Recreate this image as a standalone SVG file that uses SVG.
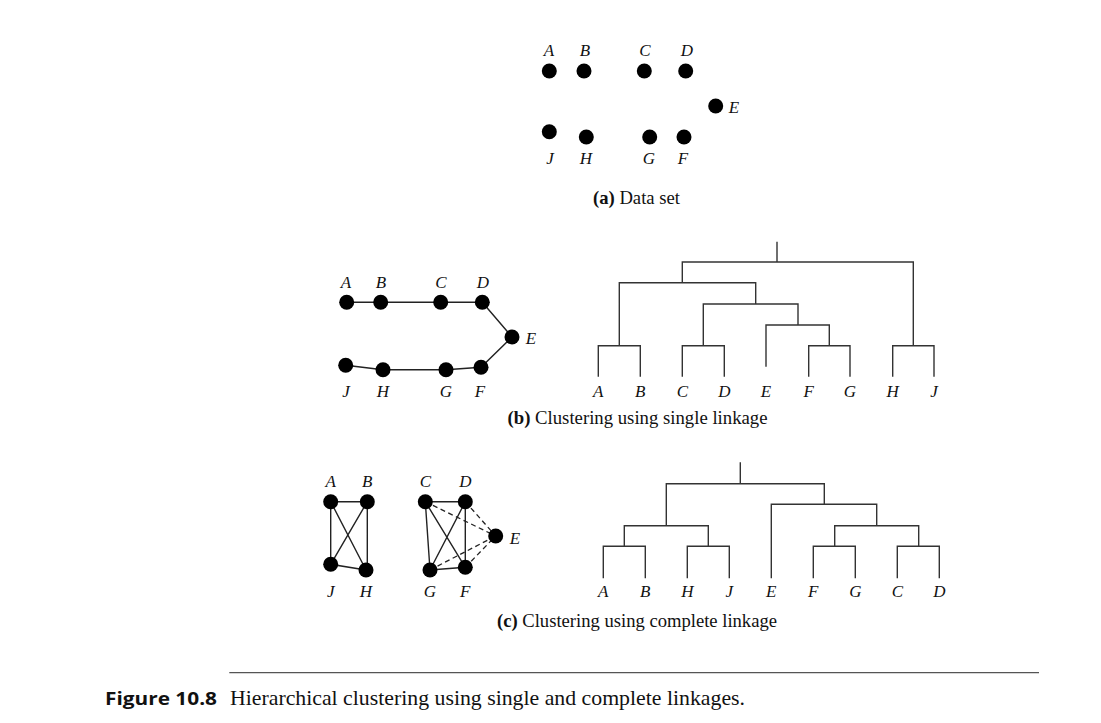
<svg xmlns="http://www.w3.org/2000/svg" width="1101" height="723" viewBox="0 0 1101 723">
<style>
.bg{fill:#ffffff}
.dot{fill:#000000}
.lbl{font-family:"Liberation Serif","Times New Roman",serif;font-style:italic;font-size:17px;fill:#111;text-anchor:middle}
.cap{font-family:"Liberation Serif","Times New Roman",serif;font-size:19px;fill:#111}
.b{font-weight:bold}
.edge{stroke:#222;stroke-width:1.4;fill:none}
.dash{stroke:#222;stroke-width:1.3;fill:none;stroke-dasharray:5,3.5}
.tree{stroke:#333;stroke-width:1.4;fill:none}
.fig{font-family:"Liberation Serif","Times New Roman",serif;font-size:21px;fill:#111}
.figb{font-family:"Open Sans","DejaVu Sans",sans-serif;font-weight:bold;font-size:18px;fill:#111}
</style>
<rect class="bg" x="0" y="0" width="1101" height="723"/>

<g id="connectors">
  <!-- (b) single linkage edges -->
  <path class="edge" d="M346.7,302.3 H482.3 L512,337 L481,367.3 L446,369.7 H383 L345.7,365.3"/>
  <!-- (c) complete linkage edges -->
  <path class="edge" d="M330.7,501.7 H367.3 V570 M330.7,501.7 V564.3 L366,570 M330.7,501.7 L366,570 M367.3,501.7 L330.7,564.3"/>
  <path class="edge" d="M425.3,501.7 H465.3 V567.3 L430,570 L425.3,501.7 L465.3,567.3 M465.3,501.7 L430,570"/>
  <path class="dash" d="M425.3,501.7 L495.7,536 M465.3,501.7 L495.7,536 M430,570 L495.7,536 M465.3,567.3 L495.7,536"/>
  <!-- (b) dendrogram -->
  <path class="tree" d="M598.3,376.7 V345.7 H640.3 V376.7 M682.3,376.7 V345.7 H724.3 V376.7 M808.7,376.7 V345.7 H850 V376.7 M892.7,376.7 V345.7 H934 V376.7 M766,366.7 V325 H829.3 V345.7 M703.3,345.7 V304 H798 V325 M619.3,345.7 V282.7 H755.7 V304 M682.3,282.7 V262 H913.3 V345.7 M777,262 V241.7"/>
  <!-- (c) dendrogram -->
  <path class="tree" d="M603.3,578.3 V546.3 H645.3 V578.3 M687.3,578.3 V546.3 H729.3 V578.3 M813.3,578.3 V546.3 H855.3 V578.3 M897.3,578.3 V546.3 H939.3 V578.3 M624.3,546.3 V525.7 H708.3 V546.3 M834.7,546.3 V525.7 H918.7 V546.3 M771.3,578.3 V504.3 H876.7 V525.7 M666.3,525.7 V483.7 H824.3 V504.3 M740.3,483.7 V462.3"/>
</g>

<!-- (a) data set -->
<g id="a-A"><circle class="dot" cx="549.3" cy="71" r="7.5"/><text class="lbl" x="549" y="56">A</text></g>
<g id="a-B"><circle class="dot" cx="584" cy="71" r="7.5"/><text class="lbl" x="585" y="56">B</text></g>
<g id="a-C"><circle class="dot" cx="644.3" cy="71" r="7.5"/><text class="lbl" x="645" y="56">C</text></g>
<g id="a-D"><circle class="dot" cx="685.7" cy="71" r="7.5"/><text class="lbl" x="687" y="56">D</text></g>
<g id="a-E"><circle class="dot" cx="715.7" cy="106" r="7.5"/><text class="lbl" x="734" y="113">E</text></g>
<g id="a-J"><circle class="dot" cx="549.3" cy="131.7" r="7.5"/><text class="lbl" x="550" y="164">J</text></g>
<g id="a-H"><circle class="dot" cx="586.3" cy="137" r="7.5"/><text class="lbl" x="586" y="164">H</text></g>
<g id="a-G"><circle class="dot" cx="649.7" cy="137" r="7.5"/><text class="lbl" x="649" y="164">G</text></g>
<g id="a-F"><circle class="dot" cx="684" cy="137" r="7.5"/><text class="lbl" x="683" y="164">F</text></g>
<text class="cap" x="593" y="204" textLength="87" lengthAdjust="spacingAndGlyphs"><tspan class="b">(a)</tspan> Data set</text>

<!-- (b) single linkage -->
<g id="b-A"><circle class="dot" cx="346.7" cy="302.3" r="7.5"/><text class="lbl" x="346" y="288">A</text></g>
<g id="b-B"><circle class="dot" cx="380.7" cy="302.3" r="7.5"/><text class="lbl" x="381" y="288">B</text></g>
<g id="b-C"><circle class="dot" cx="440.7" cy="302.3" r="7.5"/><text class="lbl" x="441" y="288">C</text></g>
<g id="b-D"><circle class="dot" cx="482.3" cy="302.3" r="7.5"/><text class="lbl" x="483" y="288">D</text></g>
<g id="b-E"><circle class="dot" cx="512" cy="337" r="7.5"/><text class="lbl" x="531" y="344">E</text></g>
<g id="b-J"><circle class="dot" cx="345.7" cy="365.3" r="7.5"/><text class="lbl" x="346" y="397">J</text></g>
<g id="b-H"><circle class="dot" cx="383" cy="369.7" r="7.5"/><text class="lbl" x="383" y="397">H</text></g>
<g id="b-G"><circle class="dot" cx="446" cy="369.7" r="7.5"/><text class="lbl" x="446" y="397">G</text></g>
<g id="b-F"><circle class="dot" cx="481" cy="367.3" r="7.5"/><text class="lbl" x="480" y="397">F</text></g>
<g id="b-dendrogram-labels">
  <text class="lbl" x="598.3" y="397">A</text>
  <text class="lbl" x="640.3" y="397">B</text>
  <text class="lbl" x="682.3" y="397">C</text>
  <text class="lbl" x="724.3" y="397">D</text>
  <text class="lbl" x="766" y="397">E</text>
  <text class="lbl" x="808.7" y="397">F</text>
  <text class="lbl" x="850" y="397">G</text>
  <text class="lbl" x="892.7" y="397">H</text>
  <text class="lbl" x="934" y="397">J</text>
</g>
<text class="cap" x="507.5" y="424" textLength="260" lengthAdjust="spacingAndGlyphs"><tspan class="b">(b)</tspan> Clustering using single linkage</text>

<!-- (c) complete linkage -->
<g id="c-A"><circle class="dot" cx="330.7" cy="501.7" r="7.5"/><text class="lbl" x="330.7" y="487">A</text></g>
<g id="c-B"><circle class="dot" cx="367.3" cy="501.7" r="7.5"/><text class="lbl" x="367.3" y="487">B</text></g>
<g id="c-J"><circle class="dot" cx="330.7" cy="564.3" r="7.5"/><text class="lbl" x="330.7" y="597">J</text></g>
<g id="c-H"><circle class="dot" cx="366" cy="570" r="7.5"/><text class="lbl" x="366" y="597">H</text></g>
<g id="c-C"><circle class="dot" cx="425.3" cy="501.7" r="7.5"/><text class="lbl" x="425.3" y="487">C</text></g>
<g id="c-D"><circle class="dot" cx="465.3" cy="501.7" r="7.5"/><text class="lbl" x="465.3" y="487">D</text></g>
<g id="c-E"><circle class="dot" cx="495.7" cy="536" r="7.5"/><text class="lbl" x="515" y="543.5">E</text></g>
<g id="c-G"><circle class="dot" cx="430" cy="570" r="7.5"/><text class="lbl" x="430" y="597">G</text></g>
<g id="c-F"><circle class="dot" cx="465.3" cy="567.3" r="7.5"/><text class="lbl" x="465.3" y="597">F</text></g>
<g id="c-dendrogram-labels">
  <text class="lbl" x="603.3" y="597">A</text>
  <text class="lbl" x="645.3" y="597">B</text>
  <text class="lbl" x="687.3" y="597">H</text>
  <text class="lbl" x="729.3" y="597">J</text>
  <text class="lbl" x="771.3" y="597">E</text>
  <text class="lbl" x="813.3" y="597">F</text>
  <text class="lbl" x="855.3" y="597">G</text>
  <text class="lbl" x="897.3" y="597">C</text>
  <text class="lbl" x="939.3" y="597">D</text>
</g>
<text class="cap" x="497" y="627" textLength="280" lengthAdjust="spacingAndGlyphs"><tspan class="b">(c)</tspan> Clustering using complete linkage</text>

<!-- figure caption -->
<line x1="229.3" y1="672.7" x2="1039" y2="672.7" stroke="#555" stroke-width="1.3"/>
<text class="figb" x="105" y="705" textLength="112" lengthAdjust="spacingAndGlyphs">Figure 10.8</text>
<text class="fig" x="230" y="705" textLength="515" lengthAdjust="spacingAndGlyphs">Hierarchical clustering using single and complete linkages.</text>
</svg>
